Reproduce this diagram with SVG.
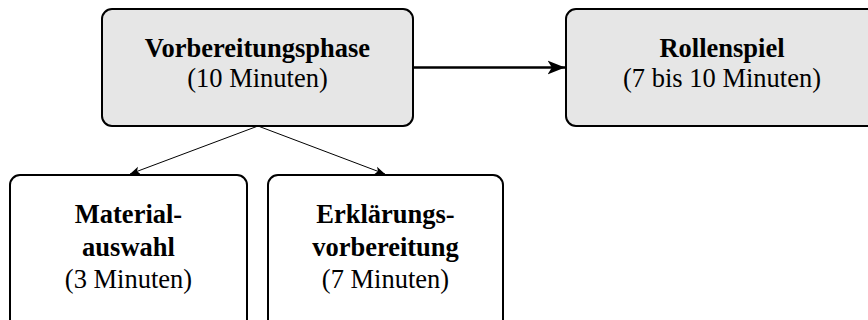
<svg xmlns="http://www.w3.org/2000/svg" width="868" height="320" viewBox="0 0 868 320">
<style>
.box{stroke:#000;stroke-width:2}
.top{fill:#e6e6e6}
.bot{fill:#fff}
text{font-family:"Liberation Serif","Times New Roman",serif;font-size:26.5px;fill:#000;text-anchor:middle}
.b{font-weight:bold}
.c{fill:none;stroke:#000}
</style>
<defs>
<marker id="ah" viewBox="0 0 10 10" refX="10" refY="5" markerWidth="10" markerHeight="10" markerUnits="userSpaceOnUse" orient="auto">
<path d="M0,1 L10,5 L0,9 L2.5,5 Z" fill="#000"/>
</marker>
<marker id="ahb" viewBox="0 0 10 10" refX="10" refY="5" markerWidth="7" markerHeight="7" orient="auto">
<path d="M0,1 L10,5 L0,9 L2.5,5 Z" fill="#000"/>
</marker>
</defs>
<rect width="868" height="320" fill="#fff"/>
<g id="vorbereitung">
<rect class="box top" x="102" y="9" width="311" height="117" rx="10"/>
<text class="b" x="257.5" y="57">Vorbereitungsphase</text>
<text x="257.5" y="87">(10 Minuten)</text>
</g>
<g id="rollenspiel">
<rect class="box top" x="566" y="9" width="311" height="117" rx="10"/>
<text class="b" x="722" y="57">Rollenspiel</text>
<text x="722" y="87">(7 bis 10 Minuten)</text>
</g>
<g id="material">
<rect class="box bot" x="10" y="175" width="237" height="160" rx="10"/>
<text class="b" x="128.5" y="223">Material-</text>
<text class="b" x="128.5" y="256">auswahl</text>
<text x="128.5" y="288">(3 Minuten)</text>
</g>
<g id="erklaerung">
<rect class="box bot" x="268" y="175" width="235" height="160" rx="10"/>
<text class="b" x="385.5" y="223">Erklärungs-</text>
<text class="b" x="385.5" y="256">vorbereitung</text>
<text x="385.5" y="288">(7 Minuten)</text>
</g>
<g id="connectors">
<line class="c" x1="413" y1="67.5" x2="565" y2="67.5" stroke-width="2.5" marker-end="url(#ahb)"/>
<line class="c" x1="258" y1="126" x2="130" y2="174" stroke-width="1" marker-end="url(#ah)"/>
<line class="c" x1="258" y1="126" x2="385" y2="174" stroke-width="1" marker-end="url(#ah)"/>
</g>
</svg>
